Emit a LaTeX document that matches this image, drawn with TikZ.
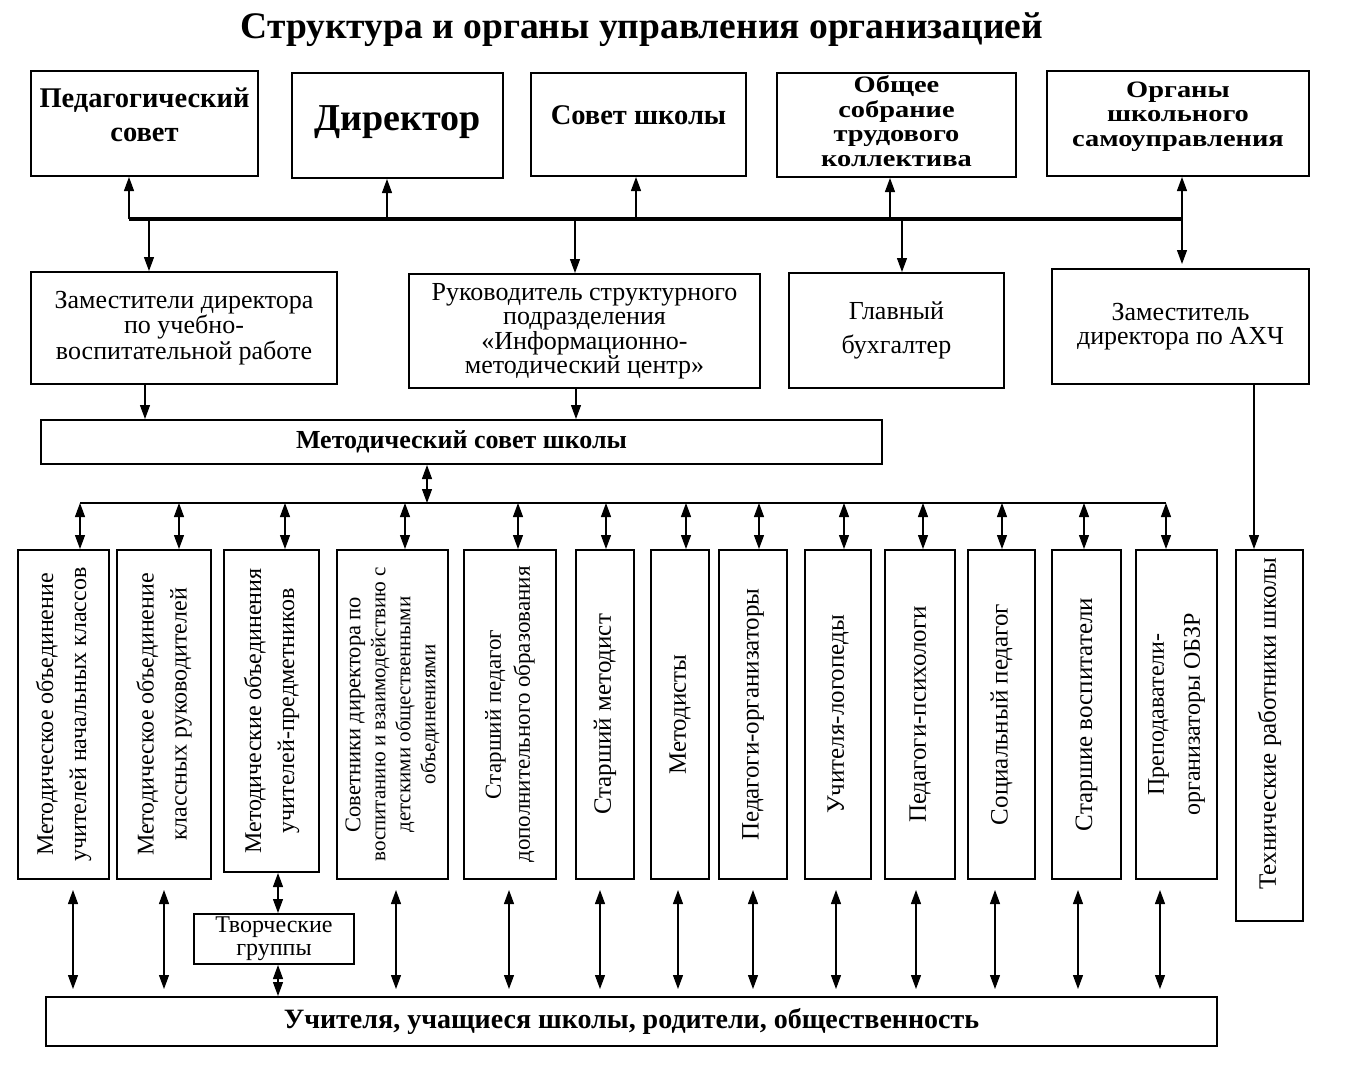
\documentclass[tikz,border=0pt]{standalone}
\usepackage{fontspec}
\setmainfont{Liberation Serif}
\newfontfamily\widefont[FakeStretch=1.21]{Liberation Serif}
\usetikzlibrary{arrows.meta}
\newcommand{\fs}[2]{\fontsize{#1}{#2}\selectfont}
\tikzset{
 box/.style={draw, line width=2pt, anchor=north west, align=center, inner sep=2pt},
 arr/.style={line width=1.2pt, -{Triangle[width=10pt,length=14pt]}},
 dbl/.style={line width=1.2pt, {Triangle[width=10pt,length=14pt]}-{Triangle[width=10pt,length=14pt]}},
 vtext/.style={rotate=90, align=center},
 vtwo/.style={font=\fs{24}{33}},
 vone/.style={font=\fs{25}{30}},
 vsmall/.style={font=\fs{21}{25}},
 vmid/.style={font=\fs{23}{29}},
 vwide/.style={font=\fs{24}{36}},
}

\begin{document}
\begin{tikzpicture}[x=1pt, y=-1pt]
 \useasboundingbox (0,0) rectangle (1345,1080);
 \node[font=\bfseries\fs{37.5}{40}] (title) at (642,30) {Структура и органы управления организацией};

 \node[box, minimum width=227, minimum height=105, text depth=18pt, font=\bfseries\fs{28.5}{34}] (ped) at (30,70) {Педагогический\\совет};
 \node[box, minimum width=211, minimum height=105, text depth=14pt, font=\bfseries\fs{38}{40}] (dir) at (291,72) {Директор};
 \node[box, minimum width=215, minimum height=103, text depth=18pt, font=\bfseries\fs{28.5}{30}] (sovet) at (530,72) {Совет школы};
 \node[box, minimum width=239, minimum height=104, text depth=8pt, font=\widefont\bfseries\fs{23.5}{24.5}] (sobr) at (776,72) {Общее\\собрание\\трудового\\коллектива};
 \node[box, minimum width=262, minimum height=105, text depth=19pt, font=\widefont\bfseries\fs{23.5}{24.5}] (org) at (1046,70) {Органы\\школьного\\самоуправления};

 \node[box, minimum width=306, minimum height=112, font=\fs{26}{24}] (zam) at (30,271) {Заместители директора\\по учебно-\\воспитательной работе};
 \node[box, minimum width=351, minimum height=114, font=\fs{26}{24.5}] (ruk) at (408,273) {Руководитель структурного\\подразделения\\«Информационно-\\методический центр»};
 \node[box, minimum width=215, minimum height=115, font=\fs{26}{34}] (buh) at (788,272) {Главный\\бухгалтер};
 \node[box, minimum width=257, minimum height=115, font=\fs{26}{24}] (axch) at (1051,268) {Заместитель\\директора по АХЧ};

 \node[box, minimum width=841, minimum height=44, font=\bfseries\fs{26}{28}] (metsov) at (40,419) {Методический совет школы};

 \foreach \i/\l/\w/\h/\f/\txt in {
  1/17/91/329/vtwo/{Методическое объединение\\учителей начальных классов},
  2/116/94/329/vtwo/{Методическое объединение\\классных руководителей},
  3/223/95/322/vtwo/{Методические объединения\\учителей-предметников},
  4/336/111/329/vsmall/{\fs{22.5}{25}Советники директора по\\воспитанию и взаимодействию с\\детскими общественными\\объединениями},
  5/463/92/329/vmid/{Старший педагог\\дополнительного образования},
  6/575/58/329/vone/{Старший методист},
  7/650/58/329/vone/{Методисты},
  8/718/68/329/vone/{Педагоги-организаторы},
  9/804/66/329/vone/{Учителя-логопеды},
  10/884/70/329/vone/{Педагоги-психологи},
  11/967/67/329/vone/{Социальный педагог},
  12/1051/69/329/vone/{Старшие воспитатели},
  13/1135/81/329/vwide/{Преподаватели-\\организаторы ОБЗР}}
 {
  \node[box, minimum width=\w, minimum height=\h] (c\i) at (\l,549) {};
  \node[vtext, \f] (ct\i) at (c\i.center) {\txt};
 }
 \node[box, minimum width=67, minimum height=371] (c14) at (1235,549) {};
 \node[vtext, vone] (ct14) at ([yshift=12pt]c14.center) {Технические работники школы};

 \node[box, minimum width=160, minimum height=50, font=\fs{24}{23}] (tvor) at (193,913) {Творческие\\группы};
 \node[box, minimum width=1171, minimum height=49, font=\bfseries\fs{28}{30}] (base) at (45,996) {Учителя, учащиеся школы, родители, общественность};

 \coordinate (busL) at (129,219);
 \coordinate (busR) at (1182,219);
 \draw[line width=3.5pt] (busL) -- (busR);
 \coordinate (b2) at (387,219);
 \coordinate (b3) at (636,219);
 \coordinate (b4) at (890,219);
 \coordinate (d1) at (149,219);
 \coordinate (d2) at (575,219);
 \coordinate (d3) at (902,219);
 \draw[arr] (busL) -- (busL |- ped.south);
 \draw[arr] (b2) -- (b2 |- dir.south);
 \draw[arr] (b3) -- (b3 |- sovet.south);
 \draw[arr] (b4) -- (b4 |- sobr.south);
 \draw[arr] (d1) -- (d1 |- zam.north);
 \draw[arr] (d2) -- (d2 |- ruk.north);
 \draw[arr] (d3) -- (d3 |- buh.north);
 \draw[dbl, shorten >=4pt] (busR |- org.south) -- (busR |- axch.north);

 \coordinate (m1) at (145,400);
 \coordinate (m2) at (576,400);
 \draw[arr] (m1 |- zam.south) -- (m1 |- metsov.north);
 \draw[arr] (m2 |- ruk.south) -- (m2 |- metsov.north);

 \coordinate (hlL) at (80,503);
 \coordinate (hlR) at (1166,503);
 \coordinate (hm) at (427,503);
 \draw[line width=1.2pt] (hlL) -- (hlR);
 \draw[dbl] (hm |- metsov.south) -- (hm);

 \foreach \i/\x in {1/80,2/179,3/285,4/405,5/518,6/606,7/686,8/759,9/844,10/923,11/1002,12/1084,13/1166}
 {
  \coordinate (t\i) at (\x,503);
  \draw[dbl] (t\i) -- (t\i |- c\i.north);
 }

 \foreach \i/\x in {1/73,2/164,4/396,5/509,6/600,7/678,8/753,9/836,10/916,11/995,12/1078,13/1160}
 {
  \coordinate (u\i) at (\x,950);
  \draw[dbl, shorten <=10pt, shorten >=7pt] (u\i |- c\i.south) -- (u\i |- base.north);
 }

 \coordinate (tv) at (278,950);
 \draw[dbl] (tv |- c3.south) -- (tv |- tvor.north);
 \draw[dbl] (tv |- tvor.south) -- (tv |- base.north);

 \coordinate (ax) at (1254,450);
 \draw[arr] (ax |- axch.south) -- (ax |- c14.north);
\end{tikzpicture}
\end{document}
